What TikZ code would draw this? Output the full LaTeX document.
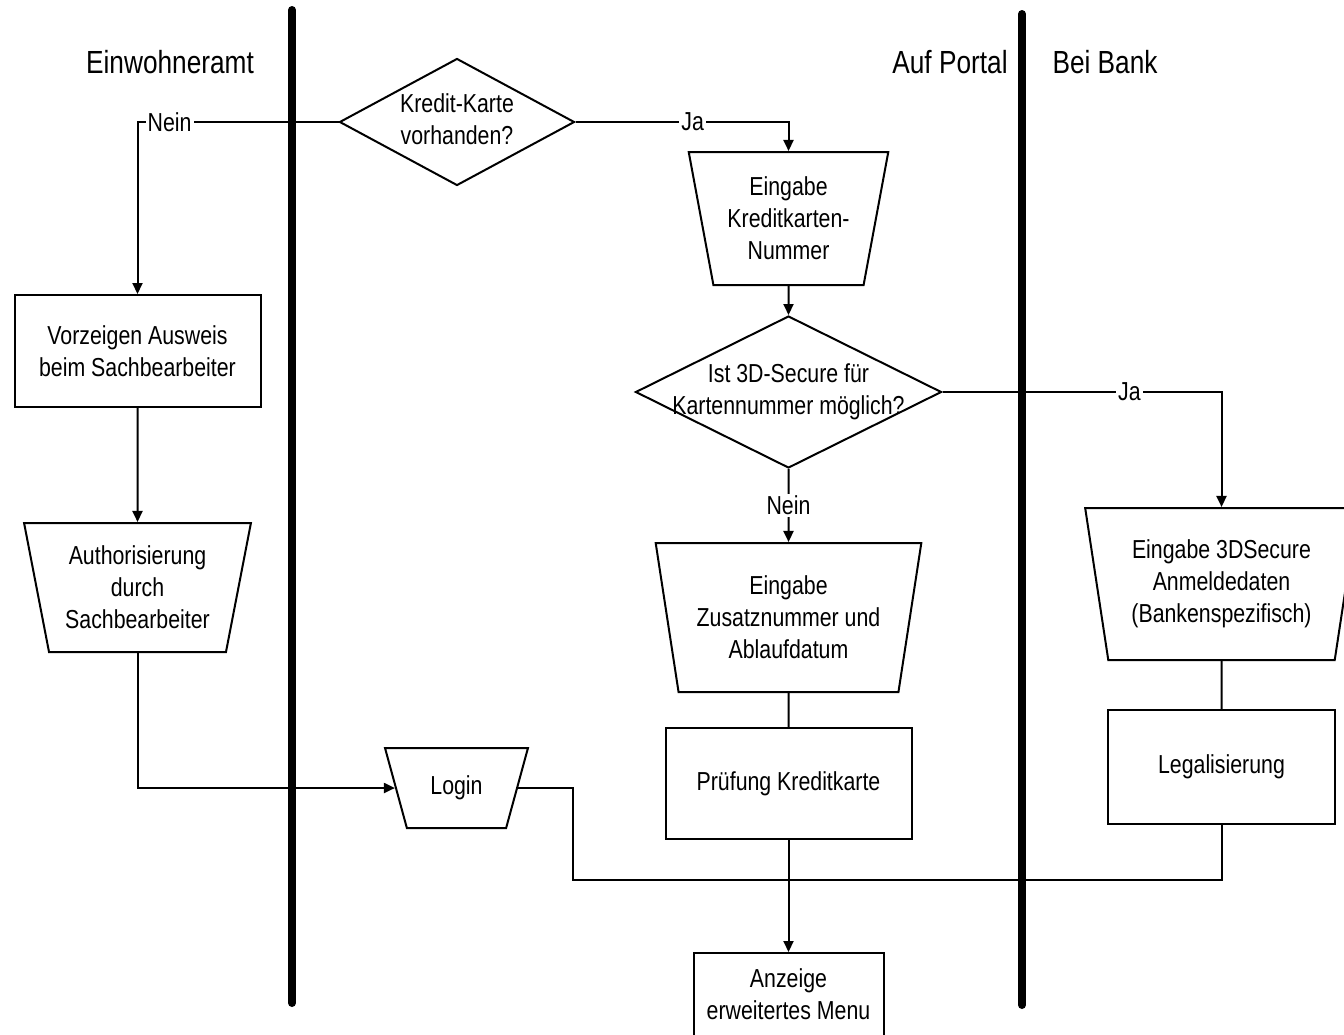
\documentclass[tikz,border=0pt]{standalone}
\usepackage{fontspec}
\setmainfont{Liberation Sans}[FakeStretch=0.82]
\usetikzlibrary{shapes.geometric,arrows.meta}

\newcommand{\dtext}[1]{\makebox[0pt]{\begin{tabular}{@{}c@{}}#1\end{tabular}}}

\begin{document}
\begin{tikzpicture}[x=0.5pt,y=-0.5pt,line width=1pt,
	font=\fontsize{13}{16}\selectfont,
	box/.style={draw,rectangle,align=center},
	trap/.style={draw,trapezium,shape border rotate=180,trapezium stretches=true,align=center},
	dia/.style={draw,diamond,inner sep=0pt},
	lbl/.style={fill=white,inner sep=1pt},
	head/.style={font=\fontsize{16}{20}\selectfont},
	lane/.style={line width=4pt,line cap=round},
	arr/.style={-{Triangle[length=5.5pt,width=5pt]}}]
	\useasboundingbox (0,0) rectangle (1344,1034);
	
	%lanes
	\draw[lane] (292,10)--(292,1003);
	\draw[lane] (1022,14)--(1022,1005);
	
	%lane labels
	\node[head] (amt) at (170,62) {Einwohneramt};
	\node[head] (portal) at (950,62) {Auf Portal};
	\node[head] (bank) at (1105,62) {Bei Bank};
	
	%decisions
	\node[dia,minimum width=117.5pt,minimum height=63.5pt] (kk) at (457,122)
		{\dtext{Kredit-Karte\\vorhanden?}};
	\node[dia,minimum width=153pt,minimum height=76pt] (sec) at (788.5,392)
		{\dtext{Ist 3D-Secure f\"ur\\Kartennummer m\"oglich?}};
	
	%inputs
	\node[trap,minimum width=100pt,minimum height=66.5pt,trapezium angle=77] (kknum) at (788.5,218.5)
		{Eingabe\\Kreditkarten-\\Nummer};
	\node[trap,minimum width=133pt,minimum height=74.5pt,trapezium angle=78] (zusatz) at (788.5,617.5)
		{Eingabe\\Zusatznummer und\\Ablaufdatum};
	\node[trap,minimum width=113.5pt,minimum height=64.5pt,trapezium angle=77] (auth) at (137.5,587.5)
		{Authorisierung\\durch\\Sachbearbeiter};
	\node[trap,minimum width=71.5pt,minimum height=40pt,trapezium angle=69] (login) at (456.5,788)
		{Login};
	\node[trap,minimum width=136.5pt,minimum height=76pt,trapezium angle=79] (secin) at (1221.5,584)
		{Eingabe 3DSecure\\Anmeldedaten\\(Bankenspezifisch)};
	
	%boxes
	\node[box,minimum width=123pt,minimum height=56pt] (vorz) at (137.5,351)
		{Vorzeigen Ausweis\\beim Sachbearbeiter};
	\node[box,minimum width=123pt,minimum height=55.5pt] (pruef) at (788.5,783.5)
		{Pr\"ufung Kreditkarte};
	\node[box,minimum width=113.5pt,minimum height=57pt] (legal) at (1221.5,767)
		{Legalisierung};
	\node[box,minimum width=95pt,minimum height=41.5pt] (menu) at (788.5,994.5)
		{Anzeige\\erweitertes Menu};
	
	%connectors
	\draw[arr] (kk.west) -- node[lbl,pos=0.84] {Nein} (kk.west -| vorz.north) -- (vorz.north);
	\draw[arr] (kk.east) -- node[lbl,pos=0.55] {Ja} (kk.east -| kknum.north) -- (kknum.north);
	\draw[arr] (kknum.south) -- (sec.north);
	\draw[arr] (sec.east) -- node[lbl,pos=0.67] {Ja} (sec.east -| secin.north) -- (secin.north);
	\draw[arr] (sec.south) -- node[lbl,pos=0.5] {Nein} (zusatz.north);
	\draw (zusatz.south) -- (pruef.north);
	\draw[arr] (pruef.south) -- (menu.north);
	\draw (secin.south) -- (legal.north);
	\draw[arr] (vorz.south) -- (auth.north);
	\draw[arr] (auth.south) |- (login);
	\coordinate (bend) at (573,880);
	\draw (login) -| (bend) -| (legal.south);
\end{tikzpicture}
\end{document}
